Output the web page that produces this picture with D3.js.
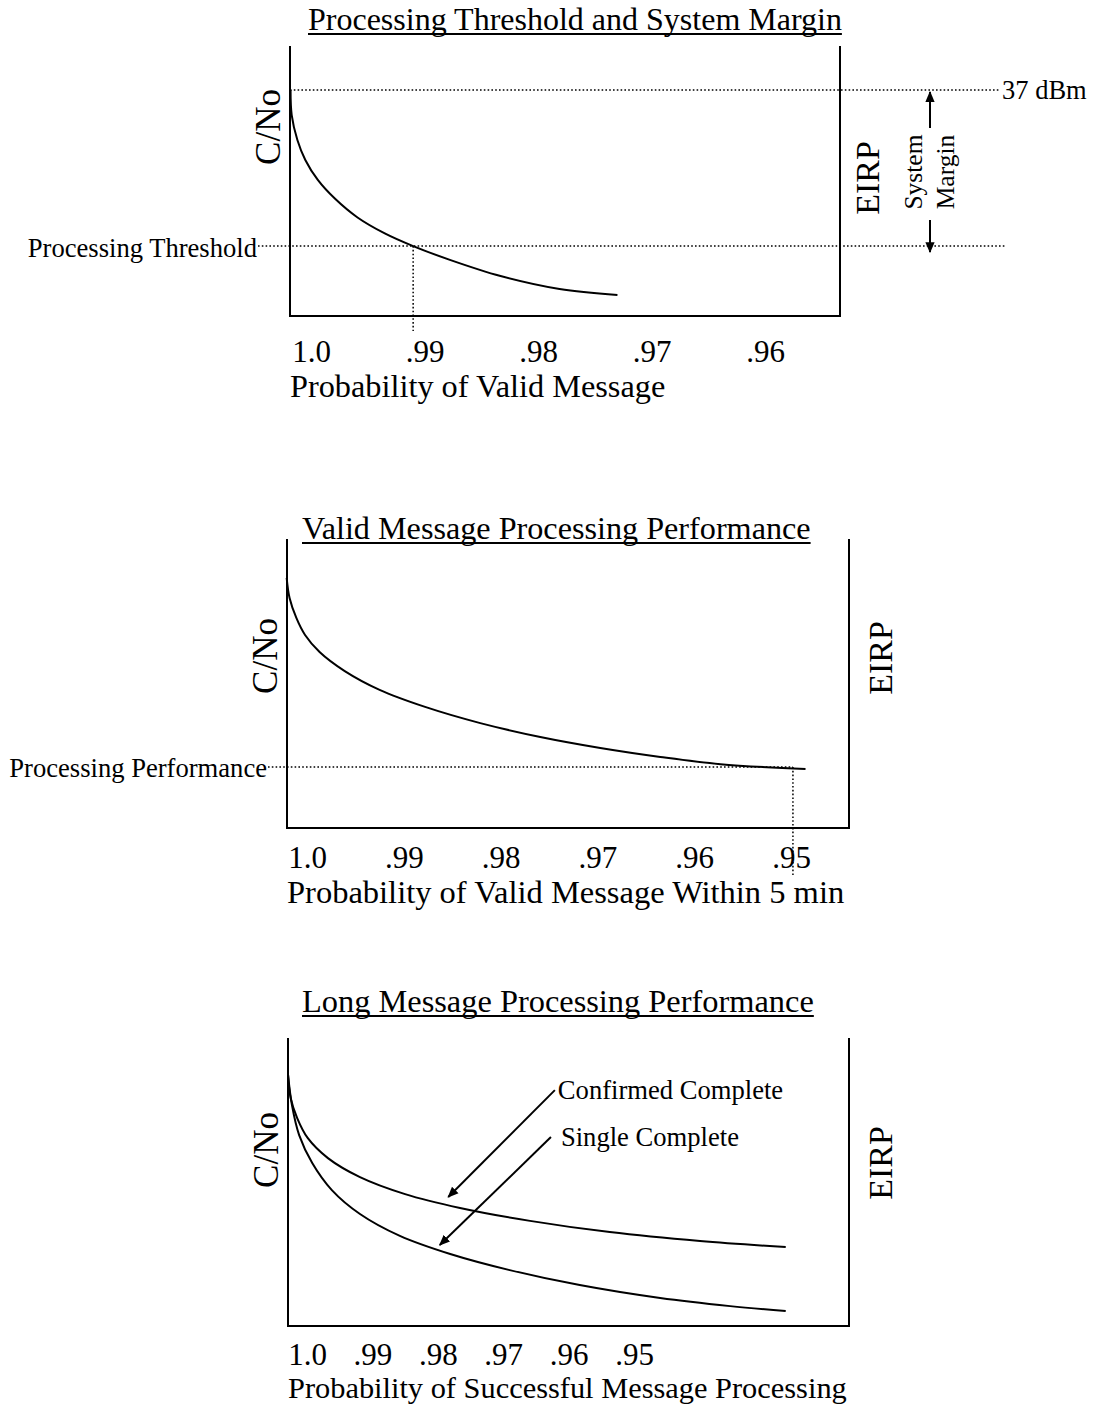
<!DOCTYPE html>
<html>
<head>
<meta charset="utf-8">
<script src="https://cdn.jsdelivr.net/npm/d3@7"></script>
<style>
  html, body { margin: 0; padding: 0; background: #fff; }
  svg { display: block; }
  text { font-family: "Liberation Serif", "Times New Roman", serif; fill: #000; }
</style>
</head>
<body>
<svg id="chart" width="1094" height="1405"></svg>
<script>
// ---------- DATA ----------
// Panel 1: Processing Threshold and System Margin
const p1Title = "Processing Threshold and System Margin";
const p1XLabel = "Probability of Valid Message";
const p1Ticks = [1.0, 0.99, 0.98, 0.97, 0.96];
const p1TickLabels = ["1.0", ".99", ".98", ".97", ".96"];
const p1Prob = [1.0018, 1.0017, 1.0012, 1.0005, 0.9994, 0.9979, 0.9959, 0.9935, 0.9910, 0.9877, 0.9833, 0.9781, 0.9730];
const p1CNo  = [83.7, 74.4, 65.2, 57.8, 50.4, 43.5, 36.5, 30.6, 25.9, 20.7, 14.8, 10.0, 7.8];
const p1MaxLevel = 83.7;        // 37 dBm line
const p1MaxLabel = "37 dBm";
const p1Threshold = 25.9;       // processing threshold level
const p1ThresholdProb = 0.9910;
const p1ThresholdLabel = "Processing Threshold";
const p1MarginLabel = ["System", "Margin"];

// Panel 2: Valid Message Processing Performance
const p2Title = "Valid Message Processing Performance";
const p2XLabel = "Probability of Valid Message Within 5 min";
const p2Ticks = [1.0, 0.99, 0.98, 0.97, 0.96, 0.95];
const p2TickLabels = ["1.0", ".99", ".98", ".97", ".96", ".95"];
const p2Prob = [1.0021, 1.0018, 1.0011, 1.0002, 0.9987, 0.9961, 0.9925, 0.9878, 0.9821, 0.9759, 0.9697, 0.9635, 0.9573, 0.9485];
const p2CNo  = [86.5, 79.6, 72.7, 66.8, 60.9, 54.3, 47.8, 41.9, 36.3, 31.5, 27.7, 24.6, 22.1, 20.4];
const p2PerfLevel = 21.1;
const p2PerfProb = 0.9498;
const p2PerfLabel = "Processing Performance";

// Panel 3: Long Message Processing Performance
const p3Title = "Long Message Processing Performance";
const p3XLabel = "Probability of Successful Message Processing";
const p3Ticks = [1.0, 0.99, 0.98, 0.97, 0.96, 0.95];
const p3TickLabels = ["1.0", ".99", ".98", ".97", ".96", ".95"];
const p3ConfProb = [1.0029, 1.0025, 1.0015, 0.9999, 0.9968, 0.9919, 0.9850, 0.9766, 0.9659, 0.9537, 0.9399, 0.9268];
const p3ConfCNo  = [87.2, 79.2, 72.2, 65.3, 58.3, 51.7, 45.8, 41.0, 36.5, 32.6, 29.5, 27.4];
const p3SingProb = [1.0029, 1.0023, 1.0012, 0.9992, 0.9962, 0.9919, 0.9858, 0.9781, 0.9690, 0.9583, 0.9460, 0.9353, 0.9268];
const p3SingCNo  = [87.2, 76.7, 66.3, 56.6, 47.2, 38.9, 31.3, 25.0, 19.4, 14.2, 9.7, 6.9, 5.2];
const p3Labels = ["Confirmed Complete", "Single Complete"];
// arrow tail/tip in (probability, C/No)
const p3ArrowTail = [[0.9621, 81.9], [0.9627, 65.6]];
const p3ArrowTip  = [[0.9784, 44.8], [0.9797, 28.1]];

const yLabel = "C/No";
const y2Label = "EIRP";

// ---------- DRAW ----------
const svg = d3.select("#chart");
const defs = svg.append("defs");
defs.append("marker").attr("id", "arrow")
  .attr("viewBox", "0 0 10 10").attr("refX", 9).attr("refY", 5)
  .attr("markerWidth", 11).attr("markerHeight", 11)
  .attr("markerUnits", "userSpaceOnUse")
  .attr("orient", "auto")
  .append("path").attr("d", "M0,0.8 L10,5 L0,9.2 Z").attr("fill", "#000");

const DOT = "1.6,2.2";

function panel(cfg) {
  const g = svg.append("g");
  const x = d3.scaleLinear().domain([1.0, cfg.lastTick]).range([cfg.x0, cfg.x1]);
  const y = d3.scaleLinear().domain([0, 100]).range([cfg.bottom, cfg.top]);

  // frame: left, bottom, right (open top)
  g.append("path")
    .attr("d", `M${cfg.left},${cfg.top} V${cfg.bottom} H${cfg.right} V${cfg.top}`)
    .attr("fill", "none").attr("stroke", "#000").attr("stroke-width", 2);

  // title with underline
  const t = g.append("text").attr("x", cfg.titleX).attr("y", cfg.titleY)
    .attr("font-size", cfg.titleSize).text(cfg.title);
  const tw = t.node().getComputedTextLength();
  g.append("line").attr("x1", cfg.titleX).attr("x2", cfg.titleX + tw)
    .attr("y1", cfg.titleY + 4).attr("y2", cfg.titleY + 4)
    .attr("stroke", "#000").attr("stroke-width", 2);

  // tick labels via axis
  const axis = d3.axisBottom(x).tickValues(cfg.ticks)
    .tickFormat((d, i) => cfg.tickLabels[i]).tickSize(0).tickPadding(0);
  const ag = g.append("g").attr("transform", `translate(0,${cfg.tickY})`).call(axis);
  ag.select(".domain").remove();
  ag.selectAll("text").attr("font-size", 31).attr("dy", 0).attr("y", 0)
    .style("font-family", '"Liberation Serif", "Times New Roman", serif').attr("fill", "#000");

  g.append("text").attr("x", cfg.left).attr("y", cfg.xLabelY)
    .attr("font-size", cfg.xLabelSize).text(cfg.xLabel);

  // y labels
  g.append("text").attr("transform", `translate(${cfg.left - 22},${cfg.yLabelY}) rotate(-90)`)
    .attr("text-anchor", "middle").attr("dominant-baseline", "central")
    .attr("font-size", 35).text(yLabel);
  g.append("text").attr("transform", `translate(${cfg.right + cfg.eirpDx},${cfg.eirpY}) rotate(-90)`)
    .attr("text-anchor", "middle").attr("dominant-baseline", "central")
    .attr("font-size", 34).text(y2Label);

  const line = d3.line().x(d => x(d[0])).y(d => y(d[1])).curve(d3.curveCatmullRom.alpha(0.5));
  cfg.series.forEach(s => {
    g.append("path").datum(d3.zip(s.p, s.c)).attr("d", line)
      .attr("fill", "none").attr("stroke", "#000").attr("stroke-width", 2);
  });
  return { g, x, y };
}

// Panel 1
{
  const { g, x, y } = panel({
    left: 290, right: 840, top: 46, bottom: 316,
    x0: 311, x1: 765, lastTick: 0.96,
    title: p1Title, titleX: 308, titleY: 30, titleSize: 32,
    ticks: p1Ticks, tickLabels: p1TickLabels, tickY: 362,
    xLabel: p1XLabel, xLabelY: 397, xLabelSize: 32.3,
    yLabelY: 127, eirpDx: 27, eirpY: 178,
    series: [{ p: p1Prob, c: p1CNo }]
  });
  const yTop = y(p1MaxLevel), yTh = y(p1Threshold);
  g.append("line").attr("x1", 290).attr("x2", 1000).attr("y1", yTop).attr("y2", yTop)
    .attr("stroke", "#000").attr("stroke-width", 1.5).attr("stroke-dasharray", DOT);
  g.append("text").attr("x", 1002).attr("y", yTop + 9).attr("font-size", 26.5).text(p1MaxLabel);
  g.append("line").attr("x1", 258).attr("x2", 1006).attr("y1", yTh).attr("y2", yTh)
    .attr("stroke", "#000").attr("stroke-width", 1.5).attr("stroke-dasharray", DOT);
  g.append("text").attr("x", 257).attr("y", yTh + 11).attr("text-anchor", "end")
    .attr("font-size", 26.6).text(p1ThresholdLabel);
  const xt = x(p1ThresholdProb);
  g.append("line").attr("x1", xt).attr("x2", xt).attr("y1", yTh).attr("y2", 331)
    .attr("stroke", "#000").attr("stroke-width", 1.5).attr("stroke-dasharray", DOT);
  // system margin arrows
  const ax = 930;
  g.append("line").attr("x1", ax).attr("x2", ax).attr("y1", yTop + 38).attr("y2", yTop + 2)
    .attr("stroke", "#000").attr("stroke-width", 2).attr("marker-end", "url(#arrow)");
  g.append("line").attr("x1", ax).attr("x2", ax).attr("y1", yTh - 26).attr("y2", yTh + 6)
    .attr("stroke", "#000").attr("stroke-width", 2).attr("marker-end", "url(#arrow)");
  const mid = (yTop + yTh) / 2 + 4;
  g.append("text").attr("transform", `translate(${ax - 17},${mid}) rotate(-90)`)
    .attr("text-anchor", "middle").attr("dominant-baseline", "central")
    .attr("font-size", 25.5).text(p1MarginLabel[0]);
  g.append("text").attr("transform", `translate(${ax + 15},${mid}) rotate(-90)`)
    .attr("text-anchor", "middle").attr("dominant-baseline", "central")
    .attr("font-size", 25.5).text(p1MarginLabel[1]);
}

// Panel 2
{
  const { g, x, y } = panel({
    left: 287, right: 849, top: 539, bottom: 828,
    x0: 307, x1: 791, lastTick: 0.95,
    title: p2Title, titleX: 302, titleY: 539, titleSize: 32.2,
    ticks: p2Ticks, tickLabels: p2TickLabels, tickY: 868,
    xLabel: p2XLabel, xLabelY: 903, xLabelSize: 32.5,
    yLabelY: 656, eirpDx: 31, eirpY: 658,
    series: [{ p: p2Prob, c: p2CNo }]
  });
  const yp = y(p2PerfLevel), xp = x(p2PerfProb);
  g.append("line").attr("x1", 268).attr("x2", xp).attr("y1", yp).attr("y2", yp)
    .attr("stroke", "#000").attr("stroke-width", 1.5).attr("stroke-dasharray", DOT);
  g.append("line").attr("x1", xp).attr("x2", xp).attr("y1", yp).attr("y2", 876)
    .attr("stroke", "#000").attr("stroke-width", 1.5).attr("stroke-dasharray", DOT);
  g.append("text").attr("x", 267).attr("y", yp + 10).attr("text-anchor", "end")
    .attr("font-size", 26.6).text(p2PerfLabel);
}

// Panel 3
{
  const { g, x, y } = panel({
    left: 288, right: 849, top: 1038, bottom: 1326,
    x0: 307, x1: 634, lastTick: 0.95,
    title: p3Title, titleX: 302, titleY: 1012, titleSize: 32.4,
    ticks: p3Ticks, tickLabels: p3TickLabels, tickY: 1365,
    xLabel: p3XLabel, xLabelY: 1398, xLabelSize: 30.4,
    yLabelY: 1150, eirpDx: 31, eirpY: 1163,
    series: [{ p: p3ConfProb, c: p3ConfCNo }, { p: p3SingProb, c: p3SingCNo }]
  });
  const labelDx = [3, 10];
  p3Labels.forEach((lab, i) => {
    const tx = x(p3ArrowTail[i][0]), ty = y(p3ArrowTail[i][1]);
    g.append("line").attr("x1", tx).attr("y1", ty)
      .attr("x2", x(p3ArrowTip[i][0])).attr("y2", y(p3ArrowTip[i][1]))
      .attr("stroke", "#000").attr("stroke-width", 2).attr("marker-end", "url(#arrow)");
    g.append("text").attr("x", tx + labelDx[i]).attr("y", ty + 9).attr("font-size", 26.6).text(lab);
  });
}
</script>
</body>
</html>
